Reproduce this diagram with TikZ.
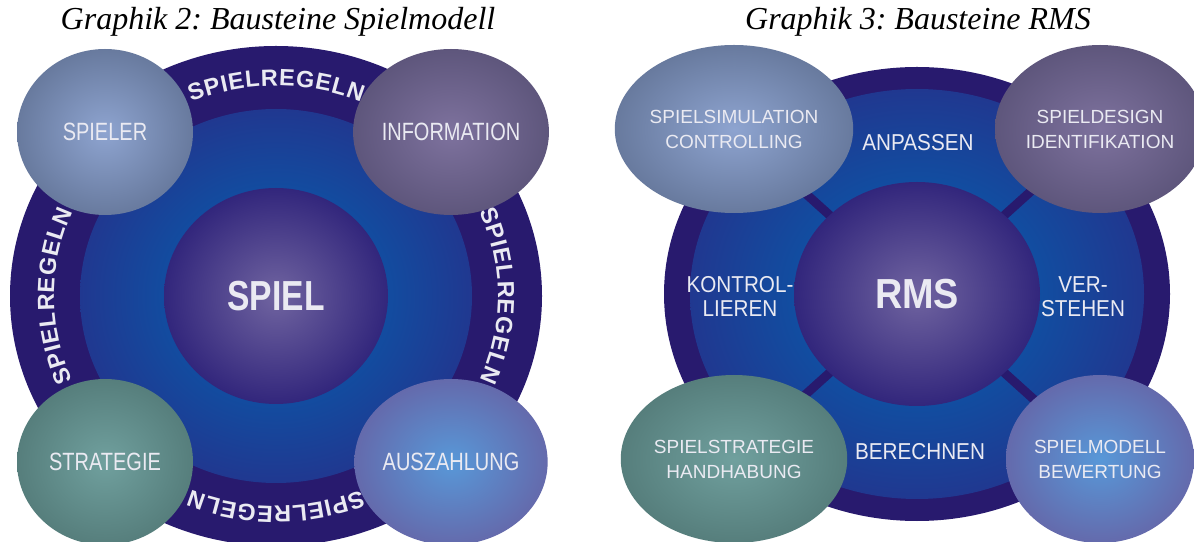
\documentclass[tikz,border=0pt]{standalone}
\usepackage{fontspec}
\setmainfont{Liberation Serif}
\setsansfont{Liberation Sans}
\newfontfamily\schmal[FakeStretch=0.8]{Liberation Sans}
\newfontfamily\halbschmal[FakeStretch=0.9]{Liberation Sans}
\usetikzlibrary{shapes.geometric,decorations.text}
\frenchspacing

\definecolor{ringdark}{RGB}{40,26,110}
\definecolor{diskin}{RGB}{0,102,180}
\definecolor{diskout}{RGB}{32,56,144}
\definecolor{mittein}{RGB}{112,100,160}
\definecolor{mitteout}{RGB}{50,38,124}
\definecolor{blaugrauin}{RGB}{142,164,208}
\definecolor{blaugrauout}{RGB}{104,122,158}
\definecolor{violettin}{RGB}{126,114,158}
\definecolor{violettout}{RGB}{94,86,124}
\definecolor{tuerkisin}{RGB}{112,160,158}
\definecolor{tuerkisout}{RGB}{86,126,124}
\definecolor{hellblauin}{RGB}{88,152,216}
\definecolor{hellblauout}{RGB}{100,106,172}
\definecolor{labelwhite}{RGB}{234,234,242}

\begin{document}
\begin{tikzpicture}
[
    x = 1pt, y = 1pt,
    titel/.style = {font = \itshape\fontsize{32}{36}\selectfont},
    kugel/.style = {ellipse, inner sep = 0pt, text = labelwhite, align = center},
    eckel/.style = {kugel, minimum width = 176pt, minimum height = 166pt,
        font = \schmal\fontsize{25}{28}\selectfont},
    eckrms/.style = {kugel, minimum width = 188pt, minimum height = 168pt,
        font = \sffamily\fontsize{19}{25}\selectfont},
    wort/.style = {text = labelwhite, align = center,
        font = \halbschmal\fontsize{23}{24}\selectfont},
    steg/.style = {draw = ringdark, line width = 9pt},
    regel/.style = {decorate, decoration = {text along path, text align = center,
        text = {|\sffamily\bfseries\fontsize{23.5}{24}\selectfont\color{labelwhite}|S{\kern.8pt}P{\kern.8pt}I{\kern.8pt}E{\kern.8pt}L{\kern.8pt}R{\kern.8pt}E{\kern.8pt}G{\kern.8pt}E{\kern.8pt}L{\kern.8pt}N}}}
]
\useasboundingbox (0,0) rectangle (1194,541);
\fill[white] (0,0) rectangle (1194,541);

% Graphik 2
\node[titel] (titel2) at (278,519) {Graphik 2: Bausteine Spielmodell};
\coordinate (lc) at (276,245);
\fill[ringdark] (lc) ellipse [x radius = 266, y radius = 250];
\shade[inner color = diskin, outer color = diskout] (lc) ellipse [x radius = 196, y radius = 187];
\path[regel] ([shift = {(150:222pt and 210pt)}]lc) arc [start angle = 150, end angle = 30, x radius = 222, y radius = 210];
\path[regel] ([shift = {(60:222pt and 210pt)}]lc) arc [start angle = 60, end angle = -60, x radius = 222, y radius = 210];
\path[regel] ([shift = {(-30:222pt and 210pt)}]lc) arc [start angle = -30, end angle = -150, x radius = 222, y radius = 210];
\path[regel] ([shift = {(210:222pt and 210pt)}]lc) arc [start angle = 210, end angle = 150, x radius = 222, y radius = 210];
\node[kugel, minimum width = 224pt, minimum height = 216pt, inner color = mittein, outer color = mitteout,
    font = \schmal\bfseries\fontsize{42}{42}\selectfont] (spiel) at (lc) {SPIEL};
\node[eckel, inner color = blaugrauin, outer color = blaugrauout] (spieler) at (105,409) {SPIELER};
\node[eckel, inner color = violettin, outer color = violettout] (information) at (451,409) {INFORMATION};
\node[eckel, inner color = tuerkisin, outer color = tuerkisout] (strategie) at (105,79) {STRATEGIE};
\node[eckel, inner color = hellblauin, outer color = hellblauout] (auszahlung) at (451,79) {AUSZAHLUNG};

% Graphik 3
\node[titel] (titel3) at (918,519) {Graphik 3: Bausteine RMS};
\coordinate (rc) at (917,247);
\coordinate (nw) at (734,412);
\coordinate (ne) at (1100,412);
\coordinate (sw) at (734,82);
\coordinate (se) at (1100,82);
\fill[ringdark] (rc) ellipse [x radius = 253, y radius = 227];
\shade[inner color = diskin, outer color = diskout] (rc) ellipse [x radius = 227, y radius = 205];
\foreach \ecke in {nw, ne, sw, se}
    \draw[steg] (rc) -- (\ecke);
\node[kugel, minimum width = 246pt, minimum height = 224pt, inner color = mittein, outer color = mitteout,
    font = \halbschmal\bfseries\fontsize{42}{42}\selectfont] (rms) at (rc) {RMS};
\node[eckrms, inner color = blaugrauin, outer color = blaugrauout] (simulation) at (nw) {SPIELSIMULATION\\CONTROLLING};
\node[eckrms, inner color = violettin, outer color = violettout] (design) at (ne) {SPIELDESIGN\\IDENTIFIKATION};
\node[eckrms, inner color = tuerkisin, outer color = tuerkisout] (spielstrategie) at (sw) {SPIELSTRATEGIE\\HANDHABUNG};
\node[eckrms, inner color = hellblauin, outer color = hellblauout] (modell) at (se) {SPIELMODELL\\BEWERTUNG};
\node[wort] (anpassen) at (918,398) {ANPASSEN};
\node[wort] (kontrollieren) at (740,245) {KONTROL-\\LIEREN};
\node[wort] (verstehen) at (1083,244) {VER-\\STEHEN};
\node[wort] (berechnen) at (920,89) {BERECHNEN};
\end{tikzpicture}
\end{document}
